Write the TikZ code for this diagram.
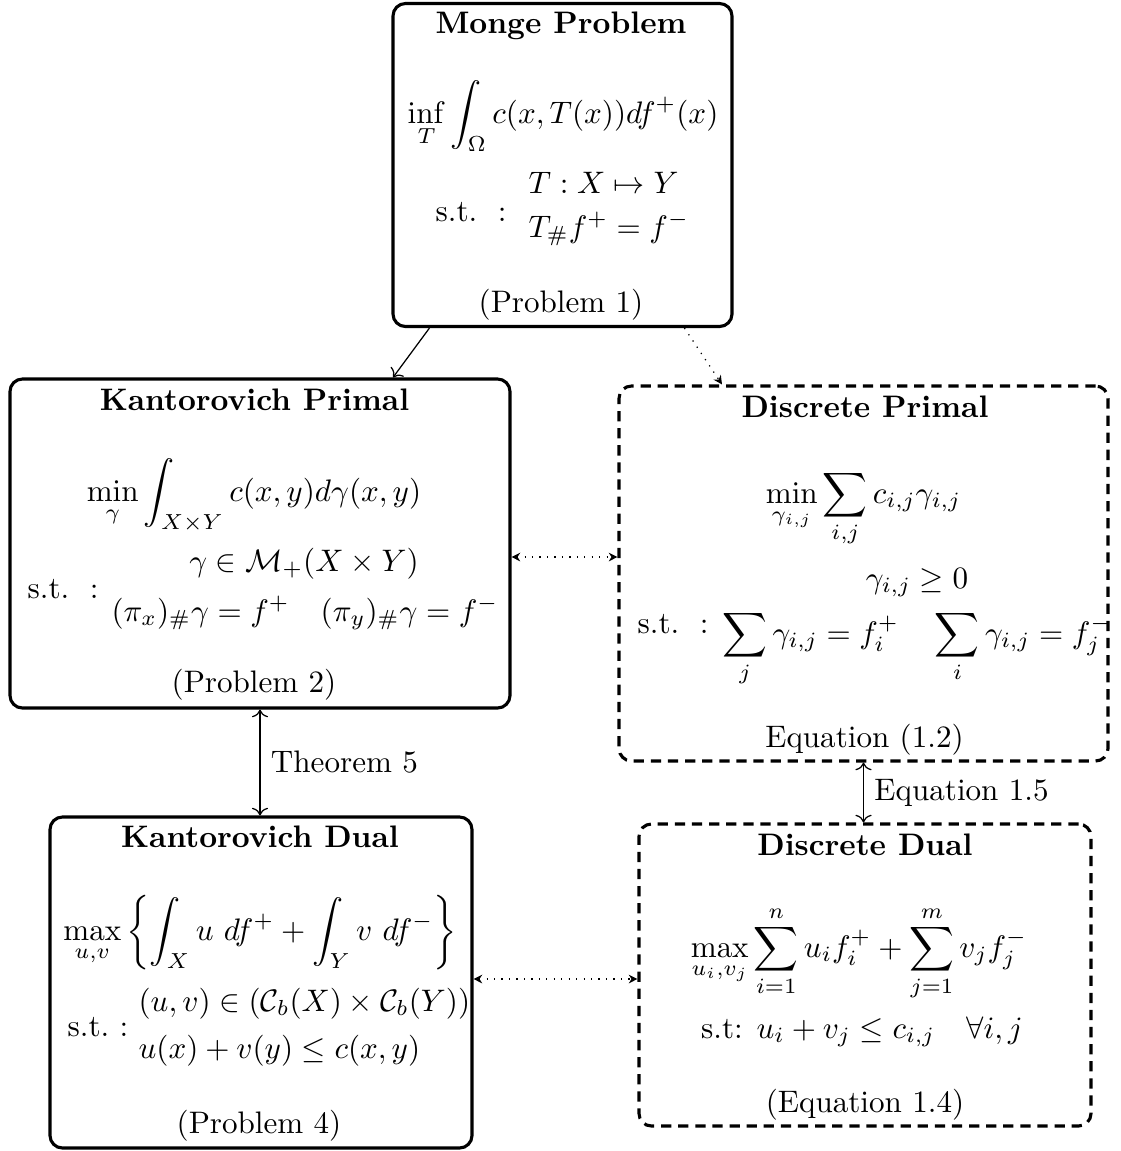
\documentclass[tikz,border=0pt]{standalone}
\usepackage{amsmath,amssymb}
\usetikzlibrary{calc,arrows.meta}
\begin{document}
\begin{tikzpicture}[x=0.3215pt,y=-0.3215pt,
  box/.style={draw,rounded corners=4pt,line width=1pt,inner sep=0pt},
  dbox/.style={box,dash pattern=on 3.3pt off 2.2pt},
  txt/.style={inner sep=0pt,anchor=base},
  txtl/.style={inner sep=0pt,anchor=base west},
  dotarrow/.style={dotted,{Stealth[length=2.8pt,width=2.8pt,inset=0.9pt]}-{Stealth[length=2.8pt,width=2.8pt,inset=0.9pt]}},
  ]
\useasboundingbox (0,0) rectangle (1121,1151);

% boxes
\node[box,minimum width=339*0.3215pt,minimum height=323*0.3215pt] (monge) at (562.5,165) {};
\node[box,minimum width=500*0.3215pt,minimum height=329*0.3215pt] (kp) at (260,543.5) {};
\node[dbox,minimum width=489*0.3215pt,minimum height=375*0.3215pt] (dp) at (863.5,573.5) {};
\node[box,minimum width=422*0.3215pt,minimum height=331*0.3215pt] (kd) at (261,982.5) {};
\node[dbox,minimum width=452*0.3215pt,minimum height=302*0.3215pt] (dd) at (865,975) {};

% Monge
\node[txt] (mt) at (561,33) {\textbf{Monge Problem}};
\node[txt] (mf) at (563,123) {$\displaystyle \inf_{T} \int_{\Omega} c(x,T(x))df^{+}(x)$};
\node[txtl] (ms) at (435,221) {s.t.\ \ :};
\node[txtl] (mr1) at (528,193) {$T : X \mapsto Y$};
\node[txtl] (mr2) at (528,237) {$T_{\#}f^{+} = f^{-}$};
\node[txt] (mp) at (561,312) {(Problem 1)};

% Kantorovich primal
\node[txt] (kpt) at (254.5,410) {\textbf{Kantorovich Primal}};
\node[txt] (kpf) at (254,501) {$\displaystyle \min_{\gamma} \int_{X\times Y} c(x,y)d\gamma(x,y)$};
\node[txtl] (kps) at (27,598) {s.t.\ \ :};
\node[txt] (kpr1) at (304,571) {$\gamma \in \mathcal{M}_{+}(X \times Y)$};
\node[txt] (kpr2) at (305,621) {$(\pi_x)_{\#}\gamma = f^{+} \quad (\pi_y)_{\#}\gamma = f^{-}$};
\node[txt] (kpp) at (254,692) {(Problem 2)};

% Discrete primal
\node[txt] (dpt) at (865,417) {\textbf{Discrete Primal}};
\node[txt] (dpf) at (863.5,503) {$\displaystyle \min_{\gamma_{i,j}} \sum_{i,j} c_{i,j}\gamma_{i,j}$};
\node[txtl] (dps) at (637,633) {s.t.\ \ :};
\node[txt] (dpr1) at (917,588) {$\gamma_{i,j} \geq 0$};
\node[txt] (dpr2) at (917,643) {$\displaystyle \sum_{j} \gamma_{i,j} = f_i^{+} \quad \sum_{i} \gamma_{i,j} = f_j^{-}$};
\node[txt] (dpp) at (864.5,747) {Equation (1.2)};

% Kantorovich dual
\node[txt] (kdt) at (260,847) {\textbf{Kantorovich Dual}};
\node[txt] (kdf) at (260,940) {$\displaystyle \max_{u,v} \left\{ \int_X u\ df^{+} + \int_Y v\ df^{-} \right\}$};
\node[txtl] (kds) at (67,1036) {s.t.\ :};
\node[txtl] (kdr1) at (138,1011) {$(u,v) \in (\mathcal{C}_b(X) \times \mathcal{C}_b(Y))$};
\node[txtl] (kdr2) at (138,1058) {$u(x) + v(y) \leq c(x,y)$};
\node[txt] (kdp) at (259,1133) {(Problem 4)};

% Discrete dual
\node[txt] (ddt) at (865,855) {\textbf{Discrete Dual}};
\node[txt] (ddf) at (859,957) {$\displaystyle \max_{u_i,v_j} \sum_{i=1}^{n} u_i f_i^{+} + \sum_{j=1}^{m} v_j f_j^{-}$};
\node[txt] (ddr) at (862,1038) {s.t: $u_i + v_j \leq c_{i,j} \quad \forall i,j$};
\node[txt] (ddp) at (865,1112) {(Equation 1.4)};

% connectors
\draw[->] ($(monge.south west)+(38,0)$) -- ($(kp.north)+(133,0)$);
\draw[dotted,-{Stealth[length=2.8pt,width=2.8pt,inset=0.9pt]}] ($(monge.south west)+(293,0)$) -- ($(dp.north)+(-141.5,0)$);
\coordinate (c1) at ($(kp.east)+(0,13.5)$);
\draw[dotarrow] (c1) -- (c1 -| dp.west);
\draw[<->] (kp.south) -- (kp.south |- kd.north) node[midway,right] (th5) {Theorem 5};
\draw[<->] (dp.south) -- (dp.south |- dd.north) node[midway,right] (eq15) {Equation 1.5};
\coordinate (c2) at ($(kd.east)+(0,-3.5)$);
\draw[dotarrow] (c2) -- (c2 -| dd.west);
\end{tikzpicture}
\end{document}
